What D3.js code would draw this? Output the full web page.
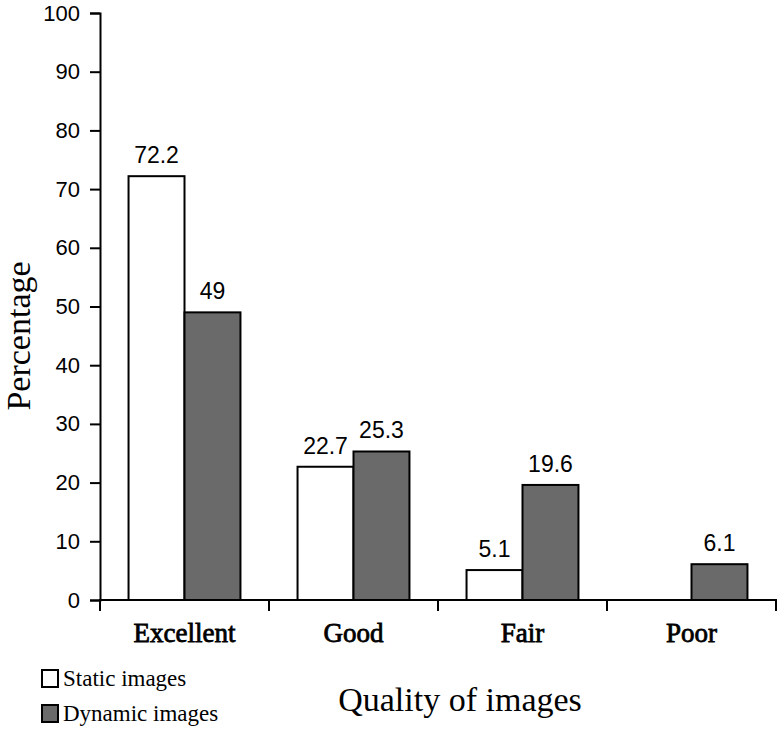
<!DOCTYPE html>
<meta charset="utf-8">
<style>
body { margin: 0; background: white; }
.tick text { font-family: "Liberation Sans", Arial, sans-serif; }
</style>
<body>
<svg width="781" height="729"></svg>
<script src="https://d3js.org/d3.v7.min.js"></script>
<script>

var categories = ["Excellent", "Good", "Fair", "Poor"];
var seriesNames = ["Static images", "Dynamic images"];
var staticValues = [72.2, 22.7, 5.1, null];
var dynamicValues = [49, 25.3, 19.6, 6.1];
var yTicks = [0, 10, 20, 30, 40, 50, 60, 70, 80, 90, 100];

var colors = ["#ffffff", "#6a6a6a"];
var serif = "'Liberation Serif', 'Times New Roman', serif";

var svg = d3.select("svg");

var x = d3.scaleBand()
    .domain(categories)
    .range([100, 776])
    .padding(0);

var xs = d3.scaleBand()
    .domain(seriesNames)
    .range([0, x.bandwidth()])
    .paddingInner(0)
    .paddingOuter(0.51);

var y = d3.scaleLinear()
    .domain([0, 100])
    .range([600, 13]);

var rows = [];
categories.forEach(function(c, i) {
  rows.push({cat: c, series: seriesNames[0], value: staticValues[i]});
  rows.push({cat: c, series: seriesNames[1], value: dynamicValues[i]});
});
rows = rows.filter(function(d) { return d.value != null; });

// bars
svg.append("g").selectAll("rect")
    .data(rows)
  .enter().append("rect")
    .attr("x", function(d) { return x(d.cat) + xs(d.series); })
    .attr("y", function(d) { return y(d.value); })
    .attr("width", xs.bandwidth())
    .attr("height", function(d) { return y(0) - y(d.value); })
    .attr("fill", function(d) { return colors[seriesNames.indexOf(d.series)]; })
    .attr("stroke", "#000")
    .attr("stroke-width", 2);

// value labels
svg.append("g").selectAll("text")
    .data(rows)
  .enter().append("text")
    .attr("x", function(d) { return x(d.cat) + xs(d.series) + xs.bandwidth() / 2; })
    .attr("y", function(d) { return y(d.value) - 13; })
    .attr("text-anchor", "middle")
    .attr("font-family", "'Liberation Sans', Arial, sans-serif")
    .attr("font-size", 23)
    .text(function(d) { return d.value; });

// y axis
var yAxis = d3.axisLeft(y)
    .tickValues(yTicks)
    .tickSizeOuter(0)
    .tickSize(10)
    .tickPadding(10);

var gy = svg.append("g")
    .attr("transform", "translate(100,0)")
    .call(yAxis);
gy.selectAll("path, line").attr("stroke", "#000").attr("stroke-width", 2);
gy.selectAll("text").attr("font-size", 22).attr("fill", "#000");

// x axis: baseline with ticks at band edges
var gx = svg.append("g");
gx.append("line")
    .attr("x1", 99).attr("x2", 777)
    .attr("y1", y(0)).attr("y2", y(0))
    .attr("stroke", "#000").attr("stroke-width", 2);

var edges = categories.map(function(c) { return x(c); }).concat([x.range()[1]]);
gx.selectAll(".edge")
    .data(edges)
  .enter().append("line")
    .attr("class", "edge")
    .attr("x1", function(d) { return d; }).attr("x2", function(d) { return d; })
    .attr("y1", y(0)).attr("y2", y(0) + 11)
    .attr("stroke", "#000").attr("stroke-width", 2);

gx.selectAll(".cat")
    .data(categories)
  .enter().append("text")
    .attr("class", "cat")
    .attr("x", function(d) { return x(d) + x.bandwidth() / 2; })
    .attr("y", 642)
    .attr("text-anchor", "middle")
    .attr("font-family", serif)
    .attr("font-size", 27)
    .attr("stroke", "#000")
    .attr("stroke-width", 0.8)
    .text(function(d) { return d; });

// axis titles
svg.append("text")
    .attr("x", 460)
    .attr("y", 711)
    .attr("text-anchor", "middle")
    .attr("font-family", serif)
    .attr("font-size", 34)
    .text("Quality of images");

svg.append("text")
    .attr("transform", "translate(30,336) rotate(-90)")
    .attr("text-anchor", "middle")
    .attr("font-family", serif)
    .attr("font-size", 34)
    .text("Percentage");

// legend
var legend = svg.append("g").selectAll("g")
    .data(seriesNames)
  .enter().append("g")
    .attr("transform", function(d, i) { return "translate(42," + (670 + i * 35) + ")"; });

legend.append("rect")
    .attr("width", 16).attr("height", 17)
    .attr("fill", function(d, i) { return colors[i]; })
    .attr("stroke", "#000")
    .attr("stroke-width", 2);

legend.append("text")
    .attr("x", 21)
    .attr("y", 16)
    .attr("font-family", serif)
    .attr("font-size", 23)
    .text(function(d) { return d; });

</script>
</body>
